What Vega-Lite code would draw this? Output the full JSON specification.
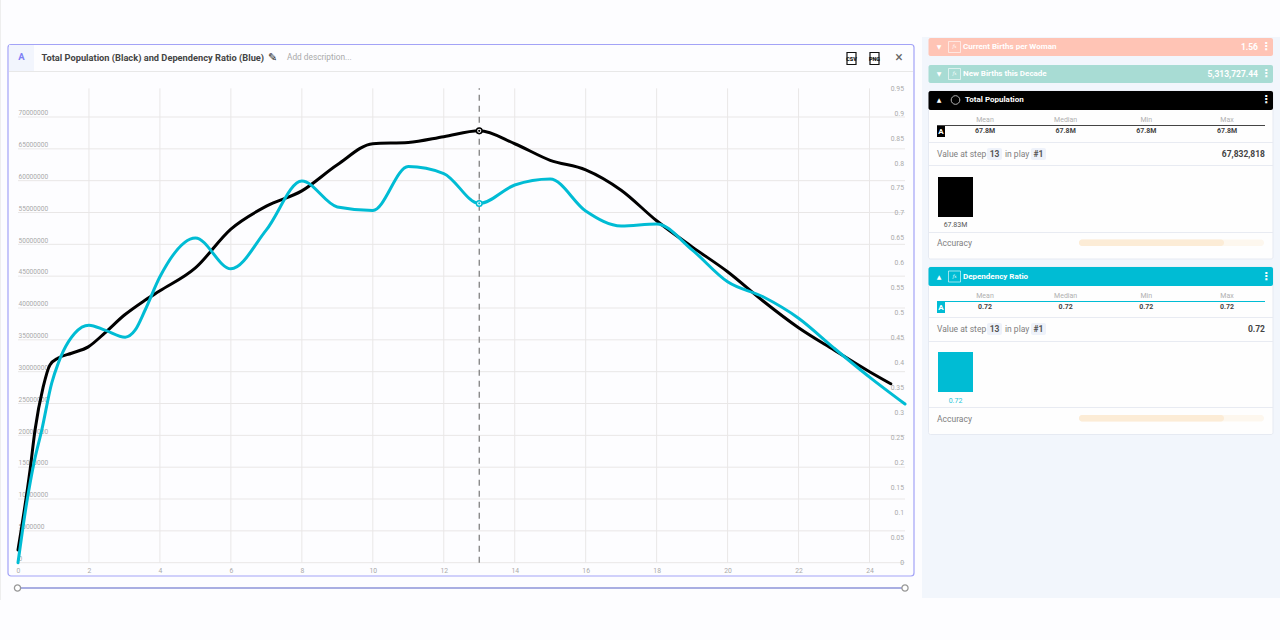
{
"$schema":"https://vega.github.io/schema/vega-lite/v6.json",
"width":1280,"height":640,"padding":0,"autosize":"none",
"background":"#fdfdff",
"view":{"stroke":null},
"config":{"axis":{"domain":false,"ticks":false,"labels":false,"grid":false,"titleOpacity":0,"titleFontSize":1},"font":"Roboto","style":{
"hw":{"fontWeight":700,"fontSize":8,"align":"left","baseline":"middle","font":"Roboto"},
"hwr":{"fontWeight":700,"fontSize":8.5,"align":"right","baseline":"middle","font":"Roboto"},
"sym":{"fontSize":6,"align":"center","baseline":"middle","font":"DejaVu Sans"},
"keb":{"fontSize":11,"fontWeight":700,"align":"center","baseline":"middle","font":"DejaVu Sans"},
"fx":{"fontSize":4.5,"fontStyle":"italic","align":"center","baseline":"middle","font":"DejaVu Serif"},
"statl":{"fontSize":7,"align":"center","baseline":"middle","font":"Roboto"},
"statv":{"fontSize":7,"fontWeight":700,"align":"center","baseline":"middle","font":"Roboto"},
"row":{"fontSize":8.5,"align":"left","baseline":"middle","font":"Roboto"},
"badge":{"fontSize":8.5,"fontWeight":700,"align":"center","baseline":"middle","font":"Roboto"},
"val":{"fontSize":8.5,"fontWeight":700,"align":"right","baseline":"middle","font":"Roboto"},
"small":{"fontSize":7,"align":"center","baseline":"middle","font":"Roboto"}
}},
"datasets":{
"one":[{"id":1}],
"population":[{"step":0,"population":2000000},{"step":0.34,"population":14560000},{"step":0.48,"population":20840000},{"step":0.71,"population":27600000},{"step":0.9,"population":31060000},{"step":1.135,"population":32150000},{"step":1.51,"population":32900000},{"step":1.98,"population":33900000},{"step":2.45,"population":36100000},{"step":3,"population":38900000},{"step":3.52,"population":41000000},{"step":4,"population":42700000},{"step":5,"population":46300000},{"step":6,"population":52400000},{"step":7,"population":56000000},{"step":8,"population":58400000},{"step":9,"population":62500000},{"step":10,"population":65800000},{"step":11,"population":66000000},{"step":12,"population":66900000},{"step":13,"population":67832818},{"step":14,"population":65800000},{"step":15,"population":63200000},{"step":16,"population":61700000},{"step":17,"population":58500000},{"step":18,"population":53700000},{"step":19,"population":49600000},{"step":20,"population":45700000},{"step":21,"population":41100000},{"step":22,"population":36900000},{"step":23,"population":33400000},{"step":24,"population":30000000},{"step":24.6,"population":28100000}],
"ratio":[{"step":0,"ratio":0},{"step":0.245,"ratio":0.12},{"step":0.45,"ratio":0.2},{"step":0.67,"ratio":0.266},{"step":0.95,"ratio":0.36},{"step":1.135,"ratio":0.4},{"step":1.27,"ratio":0.423},{"step":1.6,"ratio":0.46},{"step":2,"ratio":0.476},{"step":2.45,"ratio":0.466},{"step":3.02,"ratio":0.452},{"step":3.3,"ratio":0.466},{"step":3.58,"ratio":0.506},{"step":4,"ratio":0.573},{"step":5,"ratio":0.651},{"step":6,"ratio":0.589},{"step":7,"ratio":0.667},{"step":8,"ratio":0.765},{"step":9,"ratio":0.713},{"step":10,"ratio":0.706},{"step":11,"ratio":0.794},{"step":12,"ratio":0.78},{"step":13,"ratio":0.72},{"step":14,"ratio":0.757},{"step":15,"ratio":0.769},{"step":16,"ratio":0.705},{"step":17,"ratio":0.675},{"step":18,"ratio":0.679},{"step":19,"ratio":0.627},{"step":20,"ratio":0.563},{"step":21,"ratio":0.533},{"step":22,"ratio":0.49},{"step":23,"ratio":0.43},{"step":24,"ratio":0.372},{"step":25,"ratio":0.318}],
"ratioTicks":[{"tick":0,"label":"0"},{"tick":0.05,"label":"0.05"},{"tick":0.1,"label":"0.1"},{"tick":0.15,"label":"0.15"},{"tick":0.2,"label":"0.2"},{"tick":0.25,"label":"0.25"},{"tick":0.3,"label":"0.3"},{"tick":0.35,"label":"0.35"},{"tick":0.4,"label":"0.4"},{"tick":0.45,"label":"0.45"},{"tick":0.5,"label":"0.5"},{"tick":0.55,"label":"0.55"},{"tick":0.6,"label":"0.6"},{"tick":0.65,"label":"0.65"},{"tick":0.7,"label":"0.7"},{"tick":0.75,"label":"0.75"},{"tick":0.8,"label":"0.8"},{"tick":0.85,"label":"0.85"},{"tick":0.9,"label":"0.9"},{"tick":0.95,"label":"0.95"}],
"vgrid":[{"step":2},{"step":4},{"step":6},{"step":8},{"step":10},{"step":12},{"step":14},{"step":16},{"step":18},{"step":20},{"step":22},{"step":24}],
"hgrid":[{"level":0},{"level":5000000},{"level":10000000},{"level":15000000},{"level":20000000},{"level":25000000},{"level":30000000},{"level":35000000},{"level":40000000},{"level":45000000},{"level":50000000},{"level":55000000},{"level":60000000},{"level":65000000},{"level":70000000}],
"statsPop":[{"stat":"Mean","value":"67.8M"},{"stat":"Median","value":"67.8M"},{"stat":"Min","value":"67.8M"},{"stat":"Max","value":"67.8M"}],
"statsDep":[{"stat":"Mean","value":"0.72"},{"stat":"Median","value":"0.72"},{"stat":"Min","value":"0.72"},{"stat":"Max","value":"0.72"}],
"barPop":[{"value":67832818,"label":"67.83M"}],
"barDep":[{"value":0.72,"label":"0.72"}]
},
"data":{"name":"one"},
"resolve":{"scale":{"x":"independent","y":"independent"},"axis":{"x":"independent","y":"independent"}},
"layer":[
{"layer":[
{"mark":{"type":"rect","fill":"#f2f6fc"},"encoding":{"x":{"datum":922,"scale":{"domain":[0,1280],"range":[0,1280],"nice":false},"axis":{"title":null}},"x2":{"datum":1280},"y":{"datum":37,"scale":{"domain":[0,640],"range":[0,640],"nice":false},"axis":{"title":null}},"y2":{"datum":598}}},
{"mark":{"type":"rule","stroke":"#eeeeee"},"encoding":{"x":{"datum":0.5},"y":{"datum":0},"y2":{"datum":600}}},
{"mark":{"type":"rect","fill":"transparent","stroke":"#a3a3f7","strokeWidth":1.2,"cornerRadius":3},"encoding":{"x":{"datum":8},"x2":{"datum":914},"y":{"datum":44.5},"y2":{"datum":576}}},
{"mark":{"type":"rect","fill":"#f2f5fd"},"encoding":{"x":{"datum":9},"x2":{"datum":34},"y":{"datum":45},"y2":{"datum":71}}},
{"mark":{"type":"rule","stroke":"#e8e8e8"},"encoding":{"x":{"datum":9},"x2":{"datum":913},"y":{"datum":71.5}}},
{"mark":{"type":"text","text":"A","fill":"#7f7ff5","fontSize":9.5,"fontWeight":700,"align":"center","baseline":"middle"},"encoding":{"x":{"datum":21.5},"y":{"datum":57}}},
{"mark":{"type":"text","text":"Total Population (Black) and Dependency Ratio (Blue)","fill":"#444444","fontSize":9.28,"fontWeight":700,"align":"left","baseline":"middle"},"encoding":{"x":{"datum":41.5},"y":{"datum":58}}},
{"mark":{"type":"text","text":"✎","fill":"#222222","fontSize":11,"font":"DejaVu Sans","align":"center","baseline":"middle"},"encoding":{"x":{"datum":272.5},"y":{"datum":58}}},
{"mark":{"type":"text","text":"Add description...","fill":"#aaaaaa","fontSize":8.3,"align":"left","baseline":"middle"},"encoding":{"x":{"datum":287},"y":{"datum":58}}},
{"mark":{"type":"rect","fill":"#ffffff","stroke":"#111111","strokeWidth":1.2},"encoding":{"x":{"datum":847},"x2":{"datum":856},"y":{"datum":52.5},"y2":{"datum":64.5}}},
{"mark":{"type":"rect","fill":"#ffffff","stroke":"#111111","strokeWidth":1.2},"encoding":{"x":{"datum":870},"x2":{"datum":879},"y":{"datum":52.5},"y2":{"datum":64.5}}},
{"mark":{"type":"text","text":"CSV","fill":"#111111","fontSize":5.5,"fontWeight":900,"align":"center","baseline":"middle"},"encoding":{"x":{"datum":851.5},"y":{"datum":59}}},
{"mark":{"type":"text","text":"PNG","fill":"#111111","fontSize":5.5,"fontWeight":900,"align":"center","baseline":"middle"},"encoding":{"x":{"datum":874.5},"y":{"datum":59}}},
{"mark":{"type":"text","text":"×","fill":"#666666","fontSize":14,"align":"center","baseline":"middle"},"encoding":{"x":{"datum":899},"y":{"datum":58}}},

{"mark":{"type":"rect","fill":"#ffc4b5","cornerRadius":2},"encoding":{"x":{"datum":928.5},"x2":{"datum":1273},"y":{"datum":38},"y2":{"datum":56}}},
{"mark":{"type":"text","style":"sym","fill":"#ffffff","text":"▼"},"encoding":{"x":{"datum":939},"y":{"datum":47}}},
{"mark":{"type":"rect","fill":"transparent","stroke":"#ffffff","strokeWidth":0.6},"encoding":{"x":{"datum":948.5},"x2":{"datum":960.5},"y":{"datum":41.5},"y2":{"datum":52.5}}},
{"mark":{"type":"text","style":"fx","fill":"#ffffff","text":"fx"},"encoding":{"x":{"datum":954.5},"y":{"datum":47}}},
{"mark":{"type":"text","style":"hw","fill":"#ffffff","text":"Current Births per Woman"},"encoding":{"x":{"datum":963},"y":{"datum":47}}},
{"mark":{"type":"text","style":"hwr","fill":"#ffffff","text":"1.56"},"encoding":{"x":{"datum":1258},"y":{"datum":47}}},
{"mark":{"type":"text","style":"keb","fill":"#ffffff","text":"⋮"},"encoding":{"x":{"datum":1266},"y":{"datum":47}}},

{"mark":{"type":"rect","fill":"#a8dcd4","cornerRadius":2},"encoding":{"x":{"datum":928.5},"x2":{"datum":1273},"y":{"datum":65},"y2":{"datum":83}}},
{"mark":{"type":"text","style":"sym","fill":"#ffffff","text":"▼"},"encoding":{"x":{"datum":939},"y":{"datum":74}}},
{"mark":{"type":"rect","fill":"transparent","stroke":"#ffffff","strokeWidth":0.6},"encoding":{"x":{"datum":948.5},"x2":{"datum":960.5},"y":{"datum":68.5},"y2":{"datum":79.5}}},
{"mark":{"type":"text","style":"fx","fill":"#ffffff","text":"fx"},"encoding":{"x":{"datum":954.5},"y":{"datum":74}}},
{"mark":{"type":"text","style":"hw","fill":"#ffffff","text":"New Births this Decade"},"encoding":{"x":{"datum":963},"y":{"datum":74}}},
{"mark":{"type":"text","style":"hwr","fill":"#ffffff","text":"5,313,727.44"},"encoding":{"x":{"datum":1258},"y":{"datum":74}}},
{"mark":{"type":"text","style":"keb","fill":"#ffffff","text":"⋮"},"encoding":{"x":{"datum":1266},"y":{"datum":74}}},

{"mark":{"type":"rect","fill":"#fefefe","stroke":"#e6eaf2","cornerRadius":2},"encoding":{"x":{"datum":928.5},"x2":{"datum":1273},"y":{"datum":91},"y2":{"datum":259}}},
{"mark":{"type":"rect","fill":"#000000","cornerRadius":2},"encoding":{"x":{"datum":928.5},"x2":{"datum":1273},"y":{"datum":91},"y2":{"datum":110}}},
{"mark":{"type":"text","style":"sym","fill":"#ffffff","text":"▲"},"encoding":{"x":{"datum":939},"y":{"datum":100}}},
{"mark":{"type":"point","shape":"circle","stroke":"#ffffff","strokeWidth":1,"size":75,"fill":"transparent"},"encoding":{"x":{"datum":955.5},"y":{"datum":100}}},
{"mark":{"type":"text","style":"hw","fill":"#ffffff","text":"Total Population"},"encoding":{"x":{"datum":965},"y":{"datum":100}}},
{"mark":{"type":"text","style":"keb","fill":"#ffffff","text":"⋮"},"encoding":{"x":{"datum":1266},"y":{"datum":100}}},
{"mark":{"type":"rule","stroke":"#444444"},"encoding":{"x":{"datum":937},"x2":{"datum":1265},"y":{"datum":125.5}}},
{"mark":{"type":"rect","fill":"#000000"},"encoding":{"x":{"datum":937},"x2":{"datum":945},"y":{"datum":126},"y2":{"datum":137}}},
{"mark":{"type":"text","text":"A","fill":"#ffffff","fontSize":8,"fontWeight":700,"align":"center","baseline":"middle"},"encoding":{"x":{"datum":941},"y":{"datum":132}}},
{"mark":{"type":"rule","stroke":"#e8ebf2"},"encoding":{"x":{"datum":929},"x2":{"datum":1273},"y":{"datum":142.5}}},
{"mark":{"type":"text","style":"row","fill":"#808080","text":"Value at step"},"encoding":{"x":{"datum":937},"y":{"datum":154}}},
{"mark":{"type":"rect","fill":"#eef2fa","cornerRadius":2},"encoding":{"x":{"datum":987},"x2":{"datum":1002},"y":{"datum":148},"y2":{"datum":160}}},
{"mark":{"type":"text","style":"badge","fill":"#555555","text":"13"},"encoding":{"x":{"datum":994.5},"y":{"datum":154}}},
{"mark":{"type":"text","style":"row","fill":"#808080","text":"in play"},"encoding":{"x":{"datum":1005},"y":{"datum":154}}},
{"mark":{"type":"rect","fill":"#eef2fa","cornerRadius":2},"encoding":{"x":{"datum":1031},"x2":{"datum":1046},"y":{"datum":148},"y2":{"datum":160}}},
{"mark":{"type":"text","style":"badge","fill":"#555555","text":"#1"},"encoding":{"x":{"datum":1038.5},"y":{"datum":154}}},
{"mark":{"type":"text","style":"val","fill":"#444444","text":"67,832,818"},"encoding":{"x":{"datum":1265},"y":{"datum":154}}},
{"mark":{"type":"rule","stroke":"#e8ebf2"},"encoding":{"x":{"datum":929},"x2":{"datum":1273},"y":{"datum":165.5}}},
{"mark":{"type":"rule","stroke":"#e8ebf2"},"encoding":{"x":{"datum":929},"x2":{"datum":1273},"y":{"datum":232.5}}},
{"mark":{"type":"text","style":"row","fill":"#808080","text":"Accuracy"},"encoding":{"x":{"datum":937},"y":{"datum":242.5}}},
{"mark":{"type":"rect","fill":"#fdf7ee","cornerRadius":3},"encoding":{"x":{"datum":1079},"x2":{"datum":1264},"y":{"datum":239.5},"y2":{"datum":246}}},
{"mark":{"type":"rect","fill":"#fcecd6","cornerRadius":3},"encoding":{"x":{"datum":1079},"x2":{"datum":1224},"y":{"datum":239.5},"y2":{"datum":246}}},

{"mark":{"type":"rect","fill":"#fefefe","stroke":"#e6eaf2","cornerRadius":2},"encoding":{"x":{"datum":928.5},"x2":{"datum":1273},"y":{"datum":267},"y2":{"datum":434.5}}},
{"mark":{"type":"rect","fill":"#00bcd4","cornerRadius":2},"encoding":{"x":{"datum":928.5},"x2":{"datum":1273},"y":{"datum":267},"y2":{"datum":286}}},
{"mark":{"type":"text","style":"sym","fill":"#ffffff","text":"▲"},"encoding":{"x":{"datum":939},"y":{"datum":276.5}}},
{"mark":{"type":"rect","fill":"transparent","stroke":"#ffffff","strokeWidth":0.6},"encoding":{"x":{"datum":948.5},"x2":{"datum":960.5},"y":{"datum":271},"y2":{"datum":282}}},
{"mark":{"type":"text","style":"fx","fill":"#ffffff","text":"fx"},"encoding":{"x":{"datum":954.5},"y":{"datum":276.5}}},
{"mark":{"type":"text","style":"hw","fill":"#ffffff","text":"Dependency Ratio"},"encoding":{"x":{"datum":963},"y":{"datum":276.5}}},
{"mark":{"type":"text","style":"keb","fill":"#ffffff","text":"⋮"},"encoding":{"x":{"datum":1266},"y":{"datum":276.5}}},
{"mark":{"type":"rule","stroke":"#00bcd4"},"encoding":{"x":{"datum":937},"x2":{"datum":1265},"y":{"datum":301.5}}},
{"mark":{"type":"rect","fill":"#00bcd4"},"encoding":{"x":{"datum":937},"x2":{"datum":945},"y":{"datum":302},"y2":{"datum":313}}},
{"mark":{"type":"text","text":"A","fill":"#ffffff","fontSize":8,"fontWeight":700,"align":"center","baseline":"middle"},"encoding":{"x":{"datum":941},"y":{"datum":308}}},
{"mark":{"type":"rule","stroke":"#e8ebf2"},"encoding":{"x":{"datum":929},"x2":{"datum":1273},"y":{"datum":317.5}}},
{"mark":{"type":"text","style":"row","fill":"#808080","text":"Value at step"},"encoding":{"x":{"datum":937},"y":{"datum":329}}},
{"mark":{"type":"rect","fill":"#eef2fa","cornerRadius":2},"encoding":{"x":{"datum":987},"x2":{"datum":1002},"y":{"datum":323},"y2":{"datum":335}}},
{"mark":{"type":"text","style":"badge","fill":"#555555","text":"13"},"encoding":{"x":{"datum":994.5},"y":{"datum":329}}},
{"mark":{"type":"text","style":"row","fill":"#808080","text":"in play"},"encoding":{"x":{"datum":1005},"y":{"datum":329}}},
{"mark":{"type":"rect","fill":"#eef2fa","cornerRadius":2},"encoding":{"x":{"datum":1031},"x2":{"datum":1046},"y":{"datum":323},"y2":{"datum":335}}},
{"mark":{"type":"text","style":"badge","fill":"#555555","text":"#1"},"encoding":{"x":{"datum":1038.5},"y":{"datum":329}}},
{"mark":{"type":"text","style":"val","fill":"#444444","text":"0.72"},"encoding":{"x":{"datum":1265},"y":{"datum":329}}},
{"mark":{"type":"rule","stroke":"#e8ebf2"},"encoding":{"x":{"datum":929},"x2":{"datum":1273},"y":{"datum":341.5}}},
{"mark":{"type":"rule","stroke":"#e8ebf2"},"encoding":{"x":{"datum":929},"x2":{"datum":1273},"y":{"datum":407.5}}},
{"mark":{"type":"text","style":"row","fill":"#808080","text":"Accuracy"},"encoding":{"x":{"datum":937},"y":{"datum":418.5}}},
{"mark":{"type":"rect","fill":"#fdf7ee","cornerRadius":3},"encoding":{"x":{"datum":1079},"x2":{"datum":1264},"y":{"datum":415},"y2":{"datum":421.5}}},
{"mark":{"type":"rect","fill":"#fcecd6","cornerRadius":3},"encoding":{"x":{"datum":1079},"x2":{"datum":1224},"y":{"datum":415},"y2":{"datum":421.5}}},

{"mark":{"type":"rule","stroke":"#a9aee2","strokeWidth":2},"encoding":{"x":{"datum":18},"x2":{"datum":905},"y":{"datum":588}}},
{"mark":{"type":"point","shape":"circle","fill":"#ffffff","stroke":"#999999","strokeWidth":1.3,"size":38,"opacity":1},"encoding":{"x":{"datum":17.5},"y":{"datum":588}}},
{"mark":{"type":"point","shape":"circle","fill":"#ffffff","stroke":"#999999","strokeWidth":1.3,"size":38,"opacity":1},"encoding":{"x":{"datum":905},"y":{"datum":588}}}
]},

{"data":{"name":"statsPop"},"layer":[
{"mark":{"type":"text","style":"statl","fill":"#b0b0b0"},"encoding":{"x":{"field":"stat","type":"nominal","axis":null,"scale":{"type":"point","domain":["Mean","Median","Min","Max"],"range":[985,1227],"padding":0}},"y":{"datum":120,"axis":null,"scale":{"domain":[0,640],"range":[0,640],"nice":false}},"text":{"field":"stat","type":"nominal"}}},
{"mark":{"type":"text","style":"statv","fill":"#444444"},"encoding":{"x":{"field":"stat","type":"nominal","axis":null},"y":{"datum":131,"axis":null},"text":{"field":"value","type":"nominal"}}}
]},
{"data":{"name":"statsDep"},"layer":[
{"mark":{"type":"text","style":"statl","fill":"#b0b0b0"},"encoding":{"x":{"field":"stat","type":"nominal","axis":null,"scale":{"type":"point","domain":["Mean","Median","Min","Max"],"range":[985,1227],"padding":0}},"y":{"datum":296,"axis":null,"scale":{"domain":[0,640],"range":[0,640],"nice":false}},"text":{"field":"stat","type":"nominal"}}},
{"mark":{"type":"text","style":"statv","fill":"#444444"},"encoding":{"x":{"field":"stat","type":"nominal","axis":null},"y":{"datum":307,"axis":null},"text":{"field":"value","type":"nominal"}}}
]},
{"data":{"name":"barPop"},"layer":[
{"mark":{"type":"rect","fill":"#000000"},"encoding":{"x":{"datum":938,"axis":null,"scale":{"domain":[0,1280],"range":[0,1280],"nice":false}},"x2":{"datum":973},"y":{"field":"value","type":"quantitative","axis":null,"scale":{"domain":[0,67832818],"range":[217,177],"nice":false}},"y2":{"datum":0}}}
]},
{"data":{"name":"barDep"},"layer":[
{"mark":{"type":"rect","fill":"#00bcd4"},"encoding":{"x":{"datum":938,"axis":null,"scale":{"domain":[0,1280],"range":[0,1280],"nice":false}},"x2":{"datum":973},"y":{"field":"value","type":"quantitative","axis":null,"scale":{"domain":[0,0.72],"range":[392,352],"nice":false}},"y2":{"datum":0}}}
]},
{"data":{"name":"barPop"},"mark":{"type":"text","style":"small","fill":"#555555"},"encoding":{"x":{"datum":955.5,"axis":null,"scale":{"domain":[0,1280],"range":[0,1280],"nice":false}},"y":{"datum":225,"axis":null,"scale":{"domain":[0,640],"range":[0,640],"nice":false}},"text":{"field":"label","type":"nominal"}}},
{"data":{"name":"barDep"},"mark":{"type":"text","style":"small","fill":"#26c6da"},"encoding":{"x":{"datum":955.5,"axis":null,"scale":{"domain":[0,1280],"range":[0,1280],"nice":false}},"y":{"datum":400.5,"axis":null,"scale":{"domain":[0,640],"range":[0,640],"nice":false}},"text":{"field":"label","type":"nominal"}}},

{"layer":[
{"data":{"name":"vgrid"},"mark":{"type":"rule","stroke":"#e9e7e7","strokeWidth":1},"encoding":{"x":{"field":"step","type":"quantitative","scale":{"domain":[0,25],"range":[18,905],"nice":false},"axis":{"labels":true,"orient":"bottom","title":null,"values":[0,2,4,6,8,10,12,14,16,18,20,22,24],"offset":-77.3,"labelFontSize":6.8,"labelColor":"#aaaaaa","labelPadding":5,"labelFont":"Roboto","labelFlush":false}},"y":{"datum":0,"scale":{"domain":[0,70000000],"range":[562.7,117],"nice":false},"axis":{"labels":true,"orient":"left","title":null,"values":[0,5000000,10000000,15000000,20000000,25000000,30000000,35000000,40000000,45000000,50000000,55000000,60000000,65000000,70000000],"format":"d","offset":-18,"labelFontSize":6.6,"labelColor":"#aaaaaa","labelPadding":0,"labelAlign":"left","labelOffset":-4.3,"labelFont":"Roboto","labelOverlap":false}},"y2":{"datum":74500000}}},
{"data":{"name":"hgrid"},"mark":{"type":"rule","stroke":"#e9e7e7","strokeWidth":1},"encoding":{"x":{"datum":0},"x2":{"datum":25},"y":{"field":"level","type":"quantitative"}}},
{"data":{"name":"population"},"transform":[{"filter":"datum.step === 13"}],"mark":{"type":"rule","stroke":"#777777","strokeWidth":1.2,"strokeDash":[6,5]},"encoding":{"x":{"field":"step","type":"quantitative"},"y":{"datum":0},"y2":{"datum":74500000}}},
{"data":{"name":"population"},"mark":{"type":"line","stroke":"#000000","strokeWidth":3,"interpolate":"monotone","strokeCap":"round"},"encoding":{"x":{"field":"step","type":"quantitative"},"y":{"field":"population","type":"quantitative"}}},
{"data":{"name":"population"},"transform":[{"filter":"datum.step === 13"}],"mark":{"type":"point","shape":"circle","fill":"#ffffff","stroke":"#000000","strokeWidth":1.5,"size":32,"opacity":1},"encoding":{"x":{"field":"step","type":"quantitative"},"y":{"field":"population","type":"quantitative"}}},
{"data":{"name":"population"},"transform":[{"filter":"datum.step === 13"}],"mark":{"type":"point","shape":"circle","fill":"#000000","stroke":"#000000","strokeWidth":0,"size":5,"opacity":1},"encoding":{"x":{"field":"step","type":"quantitative"},"y":{"field":"population","type":"quantitative"}}}
]},
{"layer":[
{"data":{"name":"ratioTicks"},"mark":{"type":"text","fill":"#aaaaaa","fontSize":6.8,"font":"Roboto","align":"right","baseline":"middle","dx":-1},"encoding":{"x":{"datum":25,"axis":null,"scale":{"domain":[0,25],"range":[18,905],"nice":false}},"y":{"field":"tick","type":"quantitative","axis":null,"scale":{"domain":[0,0.95],"range":[562.7,88.7],"nice":false}},"text":{"field":"label","type":"nominal"}}},
{"data":{"name":"ratio"},"mark":{"type":"line","stroke":"#00bcd4","strokeWidth":3,"interpolate":"monotone","strokeCap":"round"},"encoding":{"x":{"field":"step","type":"quantitative","axis":null},"y":{"field":"ratio","type":"quantitative","axis":null}}},
{"data":{"name":"ratio"},"transform":[{"filter":"datum.step === 13"}],"mark":{"type":"point","shape":"circle","fill":"#ffffff","stroke":"#00bcd4","strokeWidth":1.5,"size":32,"opacity":1},"encoding":{"x":{"field":"step","type":"quantitative","axis":null},"y":{"field":"ratio","type":"quantitative","axis":null}}},
{"data":{"name":"ratio"},"transform":[{"filter":"datum.step === 13"}],"mark":{"type":"point","shape":"circle","fill":"#00bcd4","stroke":"#00bcd4","strokeWidth":0,"size":5,"opacity":1},"encoding":{"x":{"field":"step","type":"quantitative","axis":null},"y":{"field":"ratio","type":"quantitative","axis":null}}}
]}
]
}
